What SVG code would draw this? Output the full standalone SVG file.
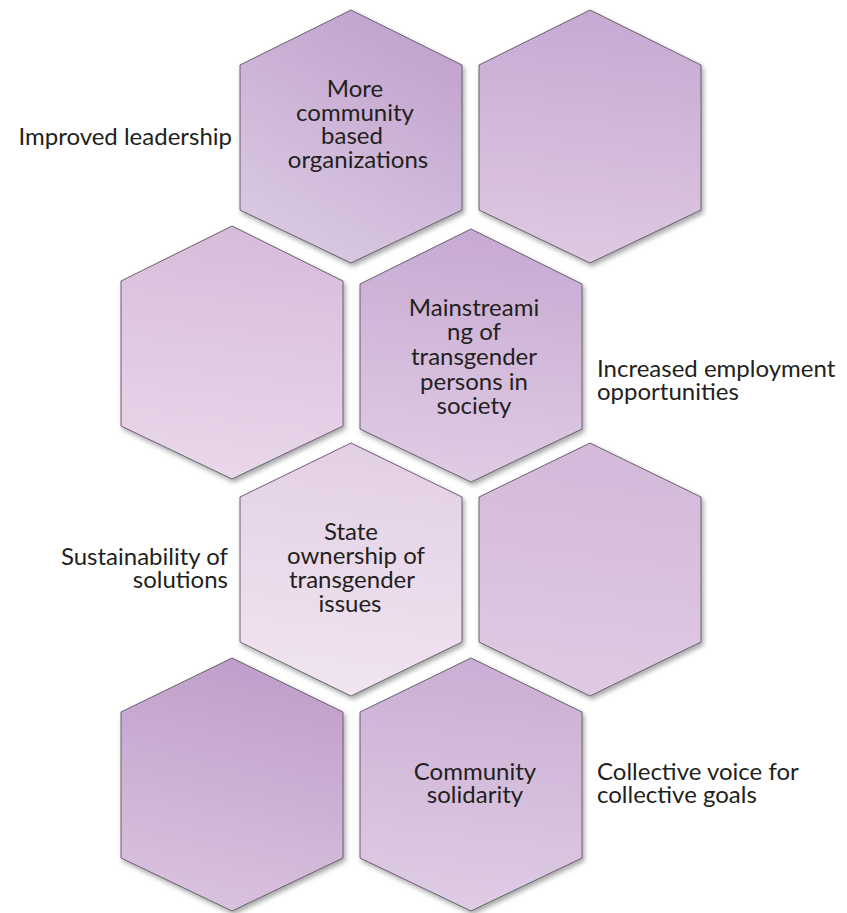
<svg xmlns="http://www.w3.org/2000/svg" width="847" height="913" viewBox="0 0 847 913">
<style>
.hex{stroke:#5a5560;stroke-width:0.9;filter:url(#sh)}
.t{font-family:Lato,"Open Sans","Liberation Sans",sans-serif;font-size:24px;fill:#231f20}
.c{text-anchor:middle}
.r{text-anchor:end}
</style>
<defs>
<filter id="sh" x="-10%" y="-10%" width="125%" height="125%">
<feDropShadow dx="2" dy="3" stdDeviation="2.5" flood-color="#000" flood-opacity="0.35"/>
</filter>
<linearGradient id="g1" x1="0.8" y1="0" x2="0.3" y2="1"><stop offset="0" stop-color="#c0a0cc"/><stop offset="1" stop-color="#dacae3"/></linearGradient>
<linearGradient id="g2" x1="0.5" y1="0" x2="0.4" y2="1"><stop offset="0" stop-color="#c7a9d2"/><stop offset="1" stop-color="#dec9e2"/></linearGradient>
<linearGradient id="g3" x1="0.5" y1="0" x2="0.4" y2="1"><stop offset="0" stop-color="#d8bcdb"/><stop offset="1" stop-color="#e9d7ea"/></linearGradient>
<linearGradient id="g4" x1="0.5" y1="0" x2="0.4" y2="1"><stop offset="0" stop-color="#c8a9d2"/><stop offset="1" stop-color="#dfcce4"/></linearGradient>
<linearGradient id="g5" x1="0.5" y1="0" x2="0.4" y2="1"><stop offset="0" stop-color="#e3cfe5"/><stop offset="1" stop-color="#f1e5f1"/></linearGradient>
<linearGradient id="g6" x1="0.5" y1="0" x2="0.4" y2="1"><stop offset="0" stop-color="#d3b9da"/><stop offset="1" stop-color="#dfcae3"/></linearGradient>
<linearGradient id="g7" x1="0.6" y1="0" x2="0.4" y2="1"><stop offset="0" stop-color="#c09dca"/><stop offset="1" stop-color="#d9c3de"/></linearGradient>
<linearGradient id="g8" x1="0.5" y1="0" x2="0.4" y2="1"><stop offset="0" stop-color="#cbaed4"/><stop offset="1" stop-color="#dfcce4"/></linearGradient>
</defs>
<rect width="847" height="913" fill="#ffffff"/>

<g id="hex1">
<polygon class="hex" fill="url(#g1)" points="351,10 462,65 462,210 351,263 240,210 240,65"/>
<text class="t c"><tspan x="355" y="97">More</tspan><tspan x="355" y="121">community</tspan><tspan x="352" y="144">based</tspan><tspan x="358" y="168">organizations</tspan></text>
</g>
<g id="hex2">
<polygon class="hex" fill="url(#g2)" points="590,10 701,65 701,210 590,263 479,210 479,65"/>
</g>
<g id="hex3">
<polygon class="hex" fill="url(#g3)" points="232,226 343,281 343,426 232,479 121,426 121,281"/>
</g>
<g id="hex4">
<polygon class="hex" fill="url(#g4)" points="471,229 582,284 582,429 471,482 360,429 360,284"/>
<text class="t c"><tspan x="474" y="316">Mainstreami</tspan><tspan x="474" y="340">ng of</tspan><tspan x="474" y="365">transgender</tspan><tspan x="474" y="390">persons in</tspan><tspan x="474" y="414">society</tspan></text>
</g>
<g id="hex5">
<polygon class="hex" fill="url(#g5)" points="351,443 462,497 462,642 351,696 240,642 240,497"/>
<text class="t c"><tspan x="351" y="540">State</tspan><tspan x="356" y="564">ownership of</tspan><tspan x="352" y="588">transgender</tspan><tspan x="350" y="612">issues</tspan></text>
</g>
<g id="hex6">
<polygon class="hex" fill="url(#g6)" points="590,443 701,497 701,642 590,696 479,642 479,497"/>
</g>
<g id="hex7">
<polygon class="hex" fill="url(#g7)" points="232,658 343,712 343,858 232,911 121,858 121,712"/>
</g>
<g id="hex8">
<polygon class="hex" fill="url(#g8)" points="471,658 582,712 582,858 471,911 360,858 360,712"/>
<text class="t c"><tspan x="475" y="780">Community</tspan><tspan x="475" y="803">solidarity</tspan></text>
</g>

<g id="labels">
<text class="t r" x="232" y="145">Improved leadership</text>
<text class="t"><tspan x="597" y="377">Increased employment</tspan><tspan x="597" y="400">opportunities</tspan></text>
<text class="t r"><tspan x="228" y="565">Sustainability of</tspan><tspan x="228" y="588">solutions</tspan></text>
<text class="t"><tspan x="597" y="780">Collective voice for</tspan><tspan x="597" y="803">collective goals</tspan></text>
</g>
<g id="connectors"/>
</svg>
